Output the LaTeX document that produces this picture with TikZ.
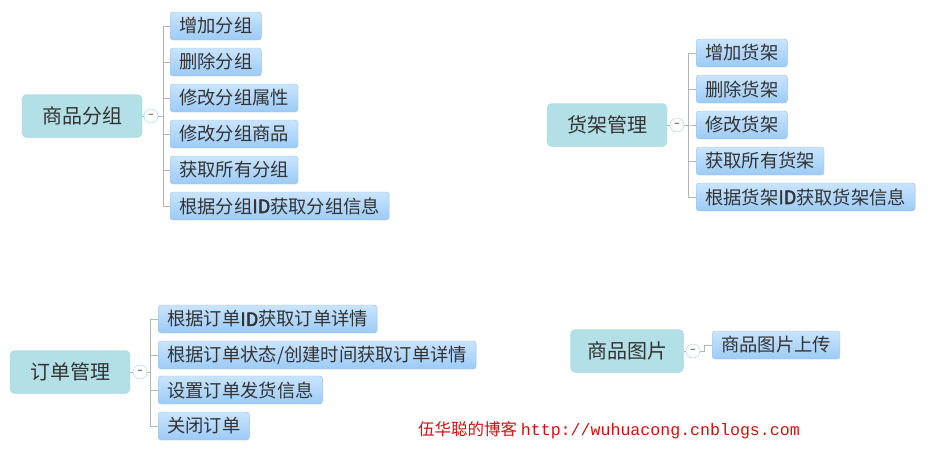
\documentclass[tikz,border=0pt]{standalone}
\usepackage{fontspec}
\setmainfont{Noto Sans CJK SC}[AutoFakeBold=2.5]
\newfontfamily\urlfont{Liberation Mono}
\definecolor{rootfill}{HTML}{B3E0E6}
\definecolor{rootline}{HTML}{9CD3DC}
\definecolor{leaftop}{HTML}{C9E4FF}
\definecolor{leafbot}{HTML}{9CCBF6}
\definecolor{leafline}{HTML}{A3BFD8}
\definecolor{wire}{HTML}{B4B4B4}
\definecolor{mark}{HTML}{D01010}
\begin{document}
\begin{tikzpicture}[x=1pt,y=-1pt,
    topic/.style={draw=rootline, fill=rootfill, rounded corners=5pt, minimum width=120pt,
      minimum height=43pt, font=\fontsize{20}{22}\selectfont, text=black!80},
    leaf/.style={draw=leafline, top color=leaftop, bottom color=leafbot, rounded corners=3pt,
      anchor=west, minimum height=28pt, inner xsep=9pt, font=\fontsize{18.3}{20}\selectfont, text=black!80},
    fold/.style={circle, draw=rootline, fill=white, inner sep=0pt, minimum size=14pt, font=\fontsize{10}{10}\selectfont},
    wirepath/.style={draw=wire, line width=0.9pt}]
\useasboundingbox (0,0) rectangle (939,469);
% group
\node[topic] (grp) at (82,116) {商品分组};
\node[fold] (grpfold) at (151,116) {–};
\node[leaf] (g1) at (170,26) {增加分组};
\node[leaf] (g2) at (170,62) {删除分组};
\node[leaf] (g3) at (170,98) {修改分组属性};
\node[leaf] (g4) at (170,134) {修改分组商品};
\node[leaf] (g5) at (170,170) {获取所有分组};
\node[leaf] (g6) at (170,206) {根据分组\textbf{ID}获取分组信息};
\draw[wirepath] (grp.east) -- (grpfold.west);
\foreach \n in {g1,g2,g3,g4,g5,g6}
  \draw[wirepath] (grpfold.east) -- (163,116) |- (\n.west);
% shelf
\node[topic] (shf) at (607,125) {货架管理};
\node[fold] (shffold) at (677,125) {–};
\node[leaf] (s1) at (696,53) {增加货架};
\node[leaf] (s2) at (696,89) {删除货架};
\node[leaf] (s3) at (696,125) {修改货架};
\node[leaf] (s4) at (696,161) {获取所有货架};
\node[leaf] (s5) at (696,197) {根据货架\textbf{ID}获取货架信息};
\draw[wirepath] (shf.east) -- (shffold.west);
\foreach \n in {s1,s2,s3,s4,s5}
  \draw[wirepath] (shffold.east) -- (688,125) |- (\n.west);
% order
\node[topic] (ord) at (70,372) {订单管理};
\node[fold] (ordfold) at (140,372) {–};
\node[leaf] (o1) at (158,319) {根据订单\textbf{ID}获取订单详情};
\node[leaf] (o2) at (158,355) {根据订单状态/创建时间获取订单详情};
\node[leaf] (o3) at (158,390) {设置订单发货信息};
\node[leaf] (o4) at (158,426) {关闭订单};
\draw[wirepath] (ord.east) -- (ordfold.west);
\foreach \n in {o1,o2,o3,o4}
  \draw[wirepath] (ordfold.east) -- (150,372) |- (\n.west);
% picture
\node[topic, minimum width=113pt] (pic) at (627,351) {商品图片};
\node[fold] (picfold) at (693,351) {–};
\node[leaf] (p1) at (712,345) {商品图片上传};
\draw[wirepath] (pic.east) -- (picfold.west);
\draw[wirepath] (picfold.east) -- (704,351) |- (p1.west);
% blog mark
\node[text=mark, anchor=west, inner sep=0pt, font=\fontsize{16.5}{18}\selectfont] (blog) at (418,430)
  {伍华聪的博客 {\urlfont\fontsize{16.6}{18}\selectfont http://wuhuacong.cnblogs.com}};
\end{tikzpicture}
\end{document}
